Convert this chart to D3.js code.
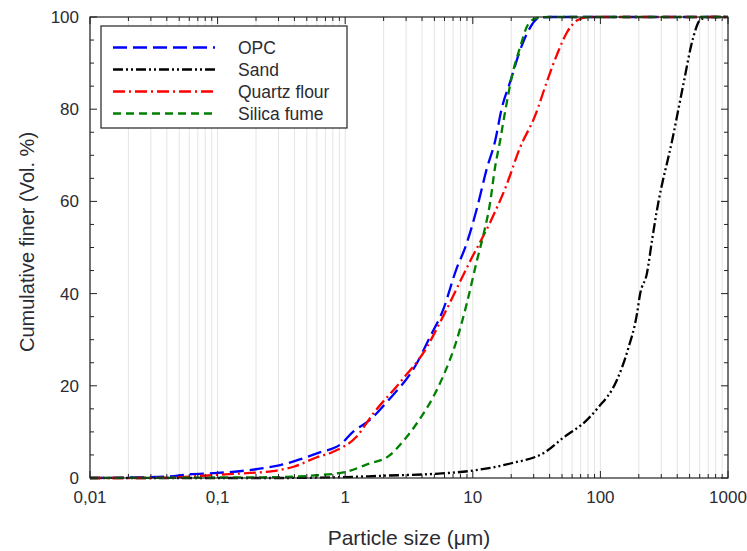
<!DOCTYPE html>
<html>
<head>
<meta charset="utf-8">
<script src="https://cdn.jsdelivr.net/npm/d3@7"></script>
<style>
  body { margin: 0; background: #fff; }
  text { font-family: "Liberation Sans", Arial, sans-serif; fill: #2b2b33; }
</style>
</head>
<body>
<div id="chart"></div>
<script>
let width = 747;
let height = 551;
let margin = ({top: 17, right: 19, bottom: 73, left: 90});

// Particle sizes (µm) and cumulative passing (%)
let opcSizes = [0.01, 0.02, 0.04, 0.06, 0.1, 0.2, 0.31, 0.47, 0.64, 0.91, 1.15, 1.56, 2.12, 3.66, 4.62, 5.84, 7.5, 8.7, 10.8, 12.9, 14.9, 16.9, 19.6, 24.3, 28, 33, 40, 100, 1000];
let opcValues = [0, 0.1, 0.3, 0.8, 1.1, 1.9, 2.8, 4.3, 5.6, 7.2, 10, 12.6, 16.5, 25, 30.6, 36.4, 45.6, 49.9, 58.6, 67.2, 72.9, 80.3, 85.9, 93.9, 97.6, 99.8, 100, 100, 100];

let sandSizes = [0.01, 0.3, 1, 2, 5, 10, 20, 36.8, 51, 78.5, 95.6, 135, 164, 194, 204, 232, 254, 277, 370, 444, 532, 603, 700, 1000];
let sandValues = [0, 0, 0.2, 0.5, 0.9, 1.6, 3.2, 5.6, 8.7, 12.6, 15.2, 21.3, 27.8, 35.8, 39.7, 44.5, 51.6, 58, 74, 85, 95.4, 99.3, 100, 100];

let quartzSizes = [0.01, 0.03, 0.06, 0.115, 0.27, 0.4, 0.6, 0.79, 1.23, 1.66, 2.66, 4.37, 5.5, 9.8, 13.7, 18.4, 23.4, 30.9, 38, 45.6, 54.8, 65.8, 80, 1000];
let quartzValues = [0, 0, 0.3, 0.8, 1.5, 2.5, 4.5, 5.6, 9, 14, 20.6, 28.4, 33.6, 47.7, 55.5, 63.6, 71.6, 78.7, 85.9, 91.8, 96.7, 99.3, 100, 100];

let silicaSizes = [0.01, 0.1, 0.31, 0.6, 1, 1.5, 2.2, 3.05, 3.8, 4.9, 5.84, 7.5, 9, 10.8, 12.1, 13.7, 14.9, 16.3, 17.9, 20.6, 23.4, 27, 32, 40, 1000];
let silicaValues = [0, 0.1, 0.2, 0.6, 1.3, 3, 4.8, 9, 12.6, 17.6, 22, 30, 38, 47.3, 52.7, 59.9, 67.2, 72.9, 79.4, 88, 93.3, 98.3, 99.8, 100, 100];

let xTickValues = [0.01, 0.1, 1, 10, 100, 1000];
let xTickLabels = ["0,01", "0,1", "1", "10", "100", "1000"];
let yTickValues = [0, 20, 40, 60, 80, 100];

let seriesNames = ["OPC", "Sand", "Quartz flour", "Silica fume"];

let series = [
    {name: seriesNames[0], sizes: opcSizes, values: opcValues, color: "#0000ff", dash: "14,6"},
    {name: seriesNames[1], sizes: sandSizes, values: sandValues, color: "#000000", dash: "10,3,2,3,2,3"},
    {name: seriesNames[2], sizes: quartzSizes, values: quartzValues, color: "#ff0000", dash: "12,4,2,4"},
    {name: seriesNames[3], sizes: silicaSizes, values: silicaValues, color: "#008000", dash: "8,5"}
];

let svg = d3.select("#chart")
    .append("svg")
    .attr("width", width)
    .attr("height", height);

let xScale = d3.scaleLog()
    .domain([0.01, 1000])
    .range([margin.left, width - margin.right]);

let yScale = d3.scaleLinear()
    .domain([0, 100])
    .range([height - margin.bottom, margin.top]);

let plotTop = margin.top, plotBottom = height - margin.bottom;
let plotLeft = margin.left, plotRight = width - margin.right;

// all log positions 1..9 per decade
let minorX = [];
for (let e = -2; e < 3; e++) {
    for (let m = 1; m < 10; m++) minorX.push(m * Math.pow(10, e));
}
minorX.push(1000);

// Light vertical grid
svg.append("g")
    .selectAll("line")
    .data(minorX)
    .enter()
    .append("line")
    .attr("x1", d => xScale(d))
    .attr("x2", d => xScale(d))
    .attr("y1", plotTop)
    .attr("y2", plotBottom)
    .attr("stroke", "#e4e4e4")
    .attr("stroke-width", 1);

// Curves
let line = d3.line()
    .x(d => xScale(d[0]))
    .y(d => yScale(d[1]))
    .curve(d3.curveMonotoneX);

svg.append("g")
    .selectAll("path")
    .data(series)
    .enter()
    .append("path")
    .attr("d", s => line(s.sizes.map((v, i) => [v, s.values[i]])))
    .attr("fill", "none")
    .attr("stroke", s => s.color)
    .attr("stroke-width", 2.3)
    .attr("stroke-dasharray", s => s.dash);

// Frame ticks, all pointing inward
let axisG = svg.append("g");

function logTicks(y, dir) {
    axisG.append("g")
        .selectAll("line")
        .data(minorX)
        .enter()
        .append("line")
        .attr("x1", d => xScale(d))
        .attr("x2", d => xScale(d))
        .attr("y1", y)
        .attr("y2", d => y + dir * (xTickValues.includes(d) ? 7 : 4))
        .attr("stroke", "#222");
}
logTicks(plotBottom, -1);
logTicks(plotTop, 1);

let yMinor = d3.range(0, 101, 5);
function linTicks(x, dir) {
    axisG.append("g")
        .selectAll("line")
        .data(yMinor)
        .enter()
        .append("line")
        .attr("x1", x)
        .attr("x2", d => x + dir * (d % 20 === 0 ? 7 : 4))
        .attr("y1", d => yScale(d))
        .attr("y2", d => yScale(d))
        .attr("stroke", "#222");
}
linTicks(plotLeft, 1);
linTicks(plotRight, -1);

svg.append("rect")
    .attr("x", plotLeft)
    .attr("y", plotTop)
    .attr("width", plotRight - plotLeft)
    .attr("height", plotBottom - plotTop)
    .attr("fill", "none")
    .attr("stroke", "#222")
    .attr("stroke-width", 1.2);

// Tick labels
svg.append("g")
    .selectAll("text")
    .data(xTickValues)
    .enter()
    .append("text")
    .attr("x", d => xScale(d))
    .attr("y", plotBottom + 25)
    .attr("text-anchor", "middle")
    .style("font-size", "17px")
    .text((d, i) => xTickLabels[i]);

svg.append("g")
    .selectAll("text")
    .data(yTickValues)
    .enter()
    .append("text")
    .attr("x", plotLeft - 11)
    .attr("y", d => yScale(d) + 6)
    .attr("text-anchor", "end")
    .style("font-size", "17px")
    .text(d => d);

// Axis titles
svg.append("text")
    .attr("x", 409)
    .attr("y", 545)
    .attr("text-anchor", "middle")
    .style("font-size", "21px")
    .text("Particle size (\u03bcm)");

svg.append("text")
    .attr("transform", "translate(34,242) rotate(-90)")
    .attr("text-anchor", "middle")
    .style("font-size", "20px")
    .text("Cumulative finer (Vol. %)");

// Legend
let legend = svg.append("g");
legend.append("rect")
    .attr("x", 101)
    .attr("y", 26)
    .attr("width", 246)
    .attr("height", 102)
    .attr("fill", "#fff")
    .attr("stroke", "#222")
    .attr("stroke-width", 1.2);

let legendRows = legend.selectAll(".row")
    .data(series)
    .enter()
    .append("g")
    .attr("class", "row")
    .attr("transform", (d, i) => "translate(0," + (47.5 + i * 22) + ")");

legendRows.append("line")
    .attr("x1", 113)
    .attr("x2", 215)
    .attr("y1", 0)
    .attr("y2", 0)
    .attr("stroke", d => d.color)
    .attr("stroke-width", 2.3)
    .attr("stroke-dasharray", d => d.dash);

legendRows.append("text")
    .attr("x", 238)
    .attr("y", 6)
    .style("font-size", "17.5px")
    .text(d => d.name);
</script>
</body>
</html>
